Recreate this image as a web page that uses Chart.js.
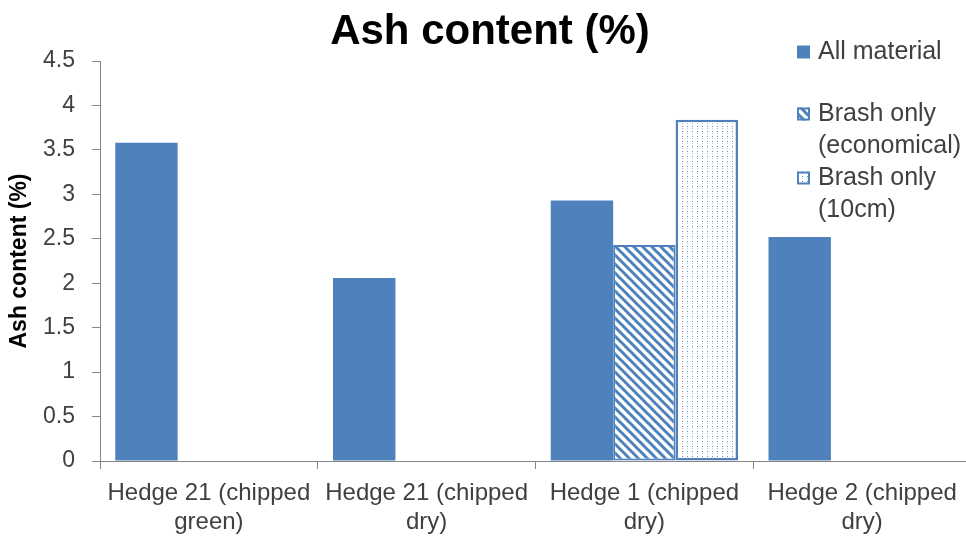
<!DOCTYPE html>
<html>
<head>
<meta charset="utf-8">
<script src="https://cdn.jsdelivr.net/npm/chart.js@4/dist/chart.umd.min.js"></script>
<style>
  html, body { margin: 0; padding: 0; background: #fff; overflow: hidden; }
  #wrap { width: 972px; height: 543px; position: relative; }
</style>
</head>
<body>
<div id="wrap"><canvas id="c"></canvas></div>
<script>
// Chart data
const categories = [
  ["Hedge 21 (chipped", "green)"],
  ["Hedge 21 (chipped", "dry)"],
  ["Hedge 1 (chipped", "dry)"],
  ["Hedge 2 (chipped", "dry)"]
];
const seriesNames = ["All material", "Brash only (economical)", "Brash only (10cm)"];
const legendLines = [["All material"], ["Brash only", "(economical)"], ["Brash only", "(10cm)"]];
const allMaterial = [3.58, 2.06, 2.93, 2.52];
const brashEconomical = [null, null, 2.43, null];
const brash10cm = [null, null, 3.84, null];
const yMin = 0, yMax = 4.5, yStep = 0.5;
const yTickLabels = ["0", "0.5", "1", "1.5", "2", "2.5", "3", "3.5", "4", "4.5"];
const chartTitle = "Ash content (%)";
const yAxisTitle = "Ash content (%)";

const BLUE = "#4F81BD";
const TEXT = "#404040";
const FONT = "'Liberation Sans', Arial, sans-serif";

// Fill patterns for the brash series
function hatchPattern() {
  const s = 9;
  const cv = document.createElement("canvas");
  cv.width = s; cv.height = s;
  const g = cv.getContext("2d");
  g.fillStyle = "#fff"; g.fillRect(0, 0, s, s);
  g.strokeStyle = BLUE; g.lineWidth = 3;
  g.beginPath();
  g.moveTo(-s, -s); g.lineTo(s * 2, s * 2);
  g.moveTo(0, -s); g.lineTo(s * 2, s);
  g.moveTo(-s, 0); g.lineTo(s, s * 2);
  g.stroke();
  return g.createPattern(cv, "repeat");
}
function dotPattern() {
  const w = 5, h = 5;
  const cv = document.createElement("canvas");
  cv.width = w; cv.height = h;
  const g = cv.getContext("2d");
  g.fillStyle = "#fff"; g.fillRect(0, 0, w, h);
  g.fillStyle = "rgba(79,129,189,0.9)";
  g.fillRect(2, 1, 1, 1);
  g.fillStyle = "rgba(79,129,189,0.45)";
  g.fillRect(2, 3, 1, 1);
  return g.createPattern(cv, "repeat");
}
const hatch = hatchPattern();
const dots = dotPattern();
const fills = [BLUE, hatch, dots];

// Title and legend drawn over the canvas
const decorations = {
  id: "decorations",
  afterDraw(chart) {
    const ctx = chart.ctx;
    ctx.save();
    ctx.fillStyle = "#000";
    ctx.font = "bold 42px " + FONT;
    ctx.textAlign = "center";
    ctx.textBaseline = "middle";
    ctx.fillText(chartTitle, 490, 32);

    const boxX = 797, box = 13;
    const firstLineY = [52, 114, 178];
    const lineGap = 32;
    ctx.font = "25px " + FONT;
    ctx.textAlign = "left";
    legendLines.forEach((lines, i) => {
      const y = firstLineY[i];
      const by = y - box / 2;
      if (i === 0) {
        ctx.fillStyle = BLUE;
        ctx.fillRect(boxX, by, box, box);
      } else {
        ctx.fillStyle = fills[i];
        ctx.fillRect(boxX, by, box, box);
        ctx.strokeStyle = BLUE; ctx.lineWidth = 2;
        ctx.strokeRect(boxX + 1, by + 1, box - 2, box - 2);
      }
      ctx.fillStyle = TEXT;
      lines.forEach((t, k) => ctx.fillText(t, 818, y + k * lineGap));
    });
    ctx.restore();
  }
};

new Chart(document.getElementById("c"), {
  type: "bar",
  data: {
    labels: categories,
    datasets: [
      { label: seriesNames[0], data: allMaterial, backgroundColor: BLUE, borderWidth: 0 },
      { label: seriesNames[1], data: brashEconomical, backgroundColor: hatch, borderColor: BLUE, borderWidth: 2, borderSkipped: false },
      { label: seriesNames[2], data: brash10cm, backgroundColor: dots, borderColor: BLUE, borderWidth: 2.5, borderSkipped: false }
    ]
  },
  plugins: [decorations],
  options: {
    responsive: true,
    maintainAspectRatio: false,
    animation: false,
    events: [],
    layout: { padding: { top: 61, right: 1, bottom: 0, left: 0 } },
    categoryPercentage: 0.86,
    barPercentage: 1.0,
    plugins: { legend: { display: false }, tooltip: { enabled: false }, title: { display: false } },
    scales: {
      x: {
        grid: { drawOnChartArea: false, color: "#868686", tickLength: 8, offset: true },
        border: { color: "#868686", width: 1 },
        ticks: { color: TEXT, font: { family: FONT, size: 24 }, maxRotation: 0, minRotation: 0, autoSkip: false, padding: 10 },
        afterFit(s) { s.height = 82; }
      },
      y: {
        min: yMin, max: yMax,
        grid: { drawOnChartArea: false, color: "#868686", tickLength: 8 },
        border: { color: "#868686", width: 1 },
        ticks: {
          stepSize: yStep, color: TEXT, font: { family: FONT, size: 23 }, padding: 17,
          callback: (v, i) => yTickLabels[i]
        },
        title: { display: true, text: yAxisTitle, color: "#000", font: { family: FONT, size: 23, weight: "bold" }, padding: { top: 6, bottom: 0 } },
        afterFit(s) { s.width = 100; }
      }
    }
  }
});
</script>
</body>
</html>
